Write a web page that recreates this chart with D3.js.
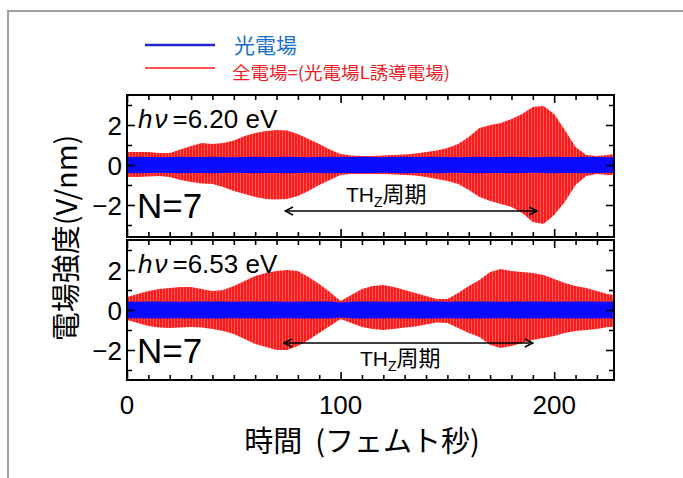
<!DOCTYPE html>
<html>
<head>
<meta charset="utf-8">
<script src="https://cdn.jsdelivr.net/npm/d3@7"></script>
<style>
  body { margin: 0; background: #fff; }
  text { font-family: "Liberation Sans", Arial, sans-serif; }
  .jp { font-family: "Noto Sans CJK JP", "Noto Sans", sans-serif; }
</style>
</head>
<body>
<div id="chart"></div>
<script>
// time samples (fs)
const times = [0,5,10,15,20,25,30,35,40,45,50,55,60,65,70,75,80,85,90,95,100,105,110,115,120,125,130,135,140,145,150,155,160,165,170,175,180,185,190,195,200,205,210,215,220,225,228];

// panel 1 (hv = 6.20 eV): envelope of total field
const topUpper = [0.65,0.65,0.65,0.6,0.6,0.78,0.95,1.1,1.05,1.1,1.22,1.45,1.6,1.7,1.75,1.72,1.55,1.3,1.05,0.78,0.55,0.48,0.45,0.45,0.47,0.5,0.52,0.58,0.65,0.72,0.85,1.05,1.4,1.85,2.0,2.1,2.3,2.55,2.9,2.95,2.55,1.75,0.9,0.5,0.45,0.5,0.55];
const topLower = [-0.6,-0.6,-0.58,-0.55,-0.6,-0.75,-0.85,-0.92,-0.95,-1.1,-1.3,-1.45,-1.6,-1.7,-1.72,-1.7,-1.55,-1.3,-1.0,-0.75,-0.5,-0.45,-0.45,-0.45,-0.45,-0.48,-0.5,-0.52,-0.6,-0.7,-0.8,-0.95,-1.25,-1.6,-1.8,-1.95,-2.1,-2.4,-2.85,-2.95,-2.5,-1.85,-1.0,-0.55,-0.45,-0.5,-0.5];
const topLight = [0.4,0.41,0.4,0.39,0.4,0.41,0.4,0.4,0.41,0.4,0.39,0.4,0.41,0.4,0.4,0.41,0.4,0.39,0.4,0.41,0.4,0.4,0.41,0.4,0.39,0.4,0.41,0.4,0.4,0.41,0.4,0.39,0.4,0.41,0.4,0.4,0.41,0.4,0.39,0.4,0.41,0.4,0.4,0.41,0.4,0.39,0.4];

// panel 2 (hv = 6.53 eV)
const botUpper = [0.65,0.8,0.95,1.05,1.1,1.15,1.15,1.05,0.95,1.0,1.2,1.45,1.7,1.85,1.95,2.0,1.95,1.65,1.3,0.9,0.45,0.75,1.05,1.2,1.25,1.15,1.0,0.85,0.7,0.55,0.55,0.85,1.2,1.5,1.9,2.05,1.95,1.9,1.85,1.75,1.55,1.35,1.2,1.1,0.95,0.8,0.75];
const botLower = [-0.5,-0.65,-0.8,-0.88,-0.9,-0.88,-0.85,-0.88,-0.95,-1.05,-1.2,-1.45,-1.7,-1.85,-2.0,-2.0,-1.8,-1.5,-1.15,-0.8,-0.45,-0.65,-0.85,-0.95,-1.0,-0.95,-0.88,-0.82,-0.72,-0.62,-0.65,-0.9,-1.15,-1.35,-1.75,-1.9,-1.8,-1.65,-1.5,-1.4,-1.3,-1.15,-1.05,-1.0,-0.95,-0.85,-0.85];
const botLight = [0.42,0.41,0.42,0.43,0.42,0.41,0.42,0.42,0.43,0.42,0.41,0.42,0.42,0.43,0.42,0.41,0.42,0.42,0.43,0.42,0.38,0.42,0.42,0.43,0.42,0.41,0.42,0.42,0.43,0.42,0.41,0.42,0.42,0.43,0.42,0.41,0.42,0.42,0.43,0.42,0.41,0.42,0.42,0.43,0.42,0.41,0.42];

const xTickLabels = [0, 100, 200];
const yTickLabels = [-2, 0, 2];

const panels = [
    {upper: topUpper, lower: topLower, light: topLight, top: 95, bottom: 237, domain: [-3.6, 3.5],
     energy: "6.20", arrow: [74, 192], arrowY: 211, thzY: 202, thzX: 346},
    {upper: botUpper, lower: botLower, light: botLight, top: 240, bottom: 380, domain: [-3.5, 3.5],
     energy: "6.53", arrow: [73.5, 190], arrowY: 343, thzY: 366, thzX: 360}
];

const W = 683, H = 478;
const left = 127, right = 614;

const svg = d3.select("#chart").append("svg")
    .attr("width", W)
    .attr("height", H);

// outer gray frame
svg.append("rect")
    .attr("x", 8).attr("y", 11)
    .attr("width", 720).attr("height", 520)
    .attr("fill", "none")
    .attr("stroke", "#a0a0a0")
    .attr("stroke-width", 2);

const defs = svg.append("defs");
const pat = defs.append("pattern")
    .attr("id", "stripes")
    .attr("patternUnits", "userSpaceOnUse")
    .attr("width", 3).attr("height", 10);
pat.append("rect").attr("width", 3).attr("height", 10).attr("fill", "#ff1a1a");
pat.append("rect").attr("x", 0).attr("width", 0.8).attr("height", 10).attr("fill", "#ff6e6e");

const marker = defs.append("marker")
    .attr("id", "head")
    .attr("viewBox", "0 0 10 10")
    .attr("refX", 9).attr("refY", 5)
    .attr("markerWidth", 10).attr("markerHeight", 10)
    .attr("markerUnits", "userSpaceOnUse")
    .attr("orient", "auto-start-reverse");
marker.append("path")
    .attr("d", "M1,1 L9,5 L1,9")
    .attr("fill", "none")
    .attr("stroke", "#000")
    .attr("stroke-width", 1.6);

const x = d3.scaleLinear().domain([0, 228]).range([left, right]);

// legend
const legend = svg.append("g");
legend.append("line")
    .attr("x1", 145).attr("x2", 215).attr("y1", 45).attr("y2", 45)
    .attr("stroke", "#2222cc").attr("stroke-width", 2.5);
legend.append("text")
    .attr("class", "jp")
    .attr("x", 234).attr("y", 53)
    .attr("font-size", 21)
    .attr("fill", "#1a6fc4")
    .text("光電場");
legend.append("line")
    .attr("x1", 145).attr("x2", 215).attr("y1", 68).attr("y2", 68)
    .attr("stroke", "#ff1a1a").attr("stroke-width", 1.5);
legend.append("text")
    .attr("class", "jp")
    .attr("x", 232).attr("y", 79)
    .attr("font-size", 17)
    .attr("textLength", 218)
    .attr("lengthAdjust", "spacingAndGlyphs")
    .attr("fill", "#ee1c24")
    .text("全電場=(光電場L誘導電場)");

panels.forEach((p, i) => {
    const y = d3.scaleLinear().domain(p.domain).range([p.bottom, p.top]);
    const g = svg.append("g");

    g.append("clipPath").attr("id", "clip" + i)
        .append("rect")
        .attr("x", left).attr("y", p.top)
        .attr("width", right - left).attr("height", p.bottom - p.top);

    const plot = g.append("g").attr("clip-path", `url(#clip${i})`);

    const redArea = d3.area()
        .x((d, j) => x(times[j]))
        .y0((d, j) => y(p.lower[j]))
        .y1((d, j) => y(p.upper[j]));
    plot.append("path")
        .datum(times)
        .attr("d", redArea)
        .attr("fill", "url(#stripes)");

    const blueArea = d3.area()
        .x((d, j) => x(times[j]))
        .y0((d, j) => y(-p.light[j]))
        .y1((d, j) => y(p.light[j]));
    plot.append("path")
        .datum(times)
        .attr("d", blueArea)
        .attr("fill", "#0a0aff");

    // ticks inside the frame, on all four sides
    const xMinor = d3.range(0, 229, 10);
    const yMinor = d3.range(-3, 4, 1);
    const tl = v => xTickLabels.includes(v) ? 8 : 5;
    const yl = v => yTickLabels.includes(v) ? 8 : 5;
    g.append("g").attr("transform", `translate(0,${p.bottom})`)
        .call(d3.axisBottom(x).tickValues(xMinor).tickSizeOuter(0).tickFormat(""))
        .call(a => a.select(".domain").remove())
        .selectAll(".tick line").attr("y2", d => -tl(d)).attr("stroke-width", 1.6);
    g.append("g").attr("transform", `translate(0,${p.top})`)
        .call(d3.axisTop(x).tickValues(xMinor).tickSizeOuter(0).tickFormat(""))
        .call(a => a.select(".domain").remove())
        .selectAll(".tick line").attr("y2", d => tl(d)).attr("stroke-width", 1.6);
    const yAxisL = g.append("g").attr("transform", `translate(${left},0)`)
        .call(d3.axisLeft(y).tickValues(yMinor).tickSizeOuter(0)
            .tickFormat(d => yTickLabels.includes(d) ? String(d).replace("-", "\u2212") : ""))
        .call(a => a.select(".domain").remove());
    yAxisL.selectAll(".tick line").attr("x2", d => yl(d)).attr("stroke-width", 1.6);
    yAxisL.selectAll(".tick text")
        .attr("x", -5)
        .attr("dy", "0.36em")
        .attr("fill", "#000")
        .attr("font-size", 26)
        .attr("font-family", "Liberation Sans, Arial, sans-serif");
    g.append("g").attr("transform", `translate(${right},0)`)
        .call(d3.axisRight(y).tickValues(yMinor).tickSizeOuter(0).tickFormat(""))
        .call(a => a.select(".domain").remove())
        .selectAll(".tick line").attr("x2", d => -yl(d)).attr("stroke-width", 1.6);

    g.append("rect")
        .attr("x", left).attr("y", p.top)
        .attr("width", right - left).attr("height", p.bottom - p.top)
        .attr("fill", "none")
        .attr("stroke", "#000")
        .attr("stroke-width", 2);

    // photon energy label
    const hv = g.append("text")
        .attr("x", 138).attr("y", p.top + 33)
        .attr("font-size", 26);
    hv.append("tspan").attr("font-style", "italic").text("h");
    hv.append("tspan").attr("font-style", "italic").attr("dx", 2).text("ν");
    hv.append("tspan").attr("dx", 5).text("=" + p.energy + " eV");

    g.append("text")
        .attr("x", 137).attr("y", p.top + 123)
        .attr("font-size", 35)
        .text("N=7");

    // THz period arrow
    g.append("line")
        .attr("x1", x(p.arrow[0])).attr("x2", x(p.arrow[1]))
        .attr("y1", p.arrowY).attr("y2", p.arrowY)
        .attr("stroke", "#000").attr("stroke-width", 1.6)
        .attr("marker-start", "url(#head)")
        .attr("marker-end", "url(#head)");
    const thz = g.append("text")
        .attr("x", p.thzX).attr("y", p.thzY)
        .attr("font-size", 21);
    thz.append("tspan").text("TH");
    thz.append("tspan").attr("font-size", 14).attr("dy", 5).text("Z");
    thz.append("tspan").attr("class", "jp").attr("dy", -5).attr("font-size", 22).text("周期");
});

// x tick labels under lower panel
svg.append("g").selectAll("text")
    .data(xTickLabels)
    .join("text")
    .attr("x", d => x(d))
    .attr("y", 414)
    .attr("text-anchor", "middle")
    .attr("font-size", 26)
    .text(d => d);

svg.append("text")
    .attr("class", "jp")
    .attr("x", 362).attr("y", 452)
    .attr("text-anchor", "middle")
    .attr("font-size", 29)
    .style("white-space", "pre")
    .text("時間  (フェムト秒)");

svg.append("text")
    .attr("class", "jp")
    .attr("transform", "translate(77,238) rotate(-90)")
    .attr("text-anchor", "middle")
    .attr("font-size", 29)
    .text("電場強度(V/nm)");
</script>
</body>
</html>
